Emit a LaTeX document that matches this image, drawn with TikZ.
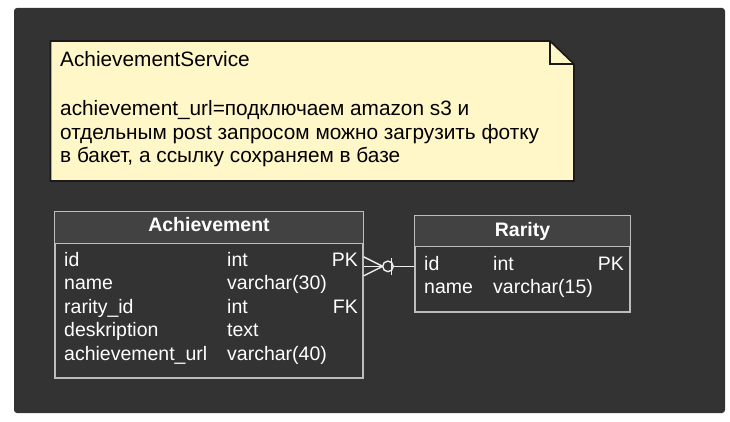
\documentclass[tikz,border=0pt]{standalone}
\usepackage{fontspec}
\setmainfont{Liberation Sans}
\usetikzlibrary{calc}
\definecolor{panelbg}{HTML}{333333}
\definecolor{notefill}{HTML}{FFF7C8}
\definecolor{notedraw}{HTML}{1A1A1A}
\definecolor{tabline}{HTML}{BDBDBD}
\definecolor{headfill}{HTML}{424242}
\definecolor{relline}{HTML}{EEEEEE}
\tikzset{
  txt/.style={anchor=base west, inner sep=0pt, text=white, font=\fontsize{19.5}{23.5}\selectfont},
  txtr/.style={anchor=base east, inner sep=0pt, text=white, font=\fontsize{19.5}{23.5}\selectfont},
  headtxt/.style={anchor=base, inner sep=0pt, text=white, font=\fontsize{19.5}{23.5}\selectfont\bfseries},
  notetxt/.style={anchor=base west, inner sep=0pt, text=black, font=\fontsize{20.8}{24}\selectfont},
  tablebox/.style={draw=tabline, line width=1.3pt, fill=panelbg, rectangle, inner sep=0pt},
  rel/.style={draw=relline, line width=1.4pt},
}
\begin{document}
\begin{tikzpicture}[x=1pt,y=-1pt]
\useasboundingbox (0,0) rectangle (730,422);
\fill[panelbg, rounded corners=3pt] (14,8) rectangle (725,413);
% note
\draw[notedraw, fill=notefill, line width=1.6pt, line join=miter]
  (50.5,41) -- (550,41) -- (574,64) -- (574,181) -- (50.5,181) -- cycle;
\draw[notedraw, line width=1.6pt] (550,41) -- (550,64) -- (574,64);
\node[notetxt] (n1) at (60,66.5) {AchievementService};
\node[notetxt] (n2) at (60,116) {achievement\_url=подключаем amazon s3 и};
\node[notetxt] (n3) at (60,139.5) {отдельным post запросом можно загрузить фотку};
\node[notetxt] (n4) at (60,163) {в бакет, а ссылку сохраняем в базе};
% Achievement table
\node[tablebox, minimum width=308pt, minimum height=166pt] (ach) at (209,295) {};
\fill[headfill] ($(ach.north west)+(0.65,0.65)$) rectangle ($(ach.north east)+(-0.65,32)$);
\draw[tabline, line width=1.3pt] ($(ach.north west)+(0,32)$) -- ($(ach.north east)+(0,32)$);
\node[headtxt] (achh) at (209,231.5) {Achievement};
\node[txt] (a1) at (64,266) {id};
\node[txt] (a1t) at (227,266) {int};
\node[txtr] (a1k) at (358,266) {PK};
\node[txt] (a2) at (64,289.5) {name};
\node[txt] (a2t) at (227,289.5) {varchar(30)};
\node[txt] (a3) at (64,313) {rarity\_id};
\node[txt] (a3t) at (227,313) {int};
\node[txtr] (a3k) at (358,313) {FK};
\node[txt] (a4) at (64,336.5) {deskription};
\node[txt] (a4t) at (227,336.5) {text};
\node[txt] (a5) at (64,360) {achievement\_url};
\node[txt] (a5t) at (227,360) {varchar(40)};
% Rarity table
\node[tablebox, minimum width=215pt, minimum height=96pt] (rar) at (522.5,264) {};
\fill[headfill] ($(rar.north west)+(0.65,0.65)$) rectangle ($(rar.north east)+(-0.65,31)$);
\draw[tabline, line width=1.3pt] ($(rar.north west)+(0,31)$) -- ($(rar.north east)+(0,31)$);
\node[headtxt] (rarh) at (522.5,236) {Rarity};
\node[txt] (r1) at (424,270) {id};
\node[txt] (r1t) at (493,270) {int};
\node[txtr] (r1k) at (624,270) {PK};
\node[txt] (r2) at (424,293) {name};
\node[txt] (r2t) at (493,293) {varchar(15)};
% relation
\coordinate (cA) at ($(ach.north east)+(0,55)$);
\coordinate (cR) at ($(rar.north west)+(0,51)$);
\coordinate (cF) at ($(cA)+(19,0)$);
\coordinate (cC) at ($(cA)+(24.3,0)$);
\draw[rel] (cA) -- (cR);
\draw[rel] ($(cA)+(0,-9.5)$) -- (cF) -- ($(cA)+(0,9.5)$);
\draw[rel, fill=panelbg] (cC) circle (5.3pt);
\draw[rel] ($(cA)+(28,-8.5)$) -- ($(cA)+(28,8.5)$);
\end{tikzpicture}
\end{document}
